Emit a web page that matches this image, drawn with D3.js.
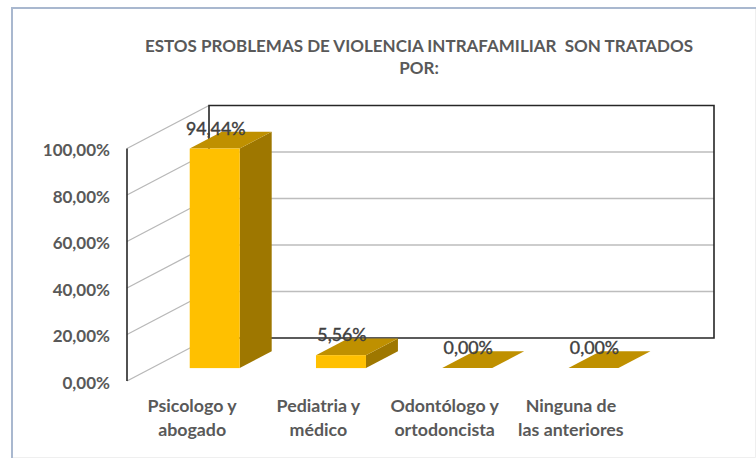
<!DOCTYPE html>
<html><head><meta charset="utf-8">
<script src="https://cdn.jsdelivr.net/npm/d3@7"></script>
<style>html,body{margin:0;padding:0;background:#fff}svg{display:block}text{font-family:Lato,"Open Sans",sans-serif}</style>
</head><body><svg id="c" width="756" height="458"></svg>
<script>
const titleLines = ["ESTOS PROBLEMAS DE VIOLENCIA INTRAFAMILIAR  SON TRATADOS", "POR:"];
const categories = ["Psicologo y|abogado", "Pediatria y|médico", "Odontólogo y|ortodoncista", "Ninguna de|las anteriores"];
const values = [94.44, 5.56, 0, 0];
const valueLabels = ["94,44%", "5,56%", "0,00%", "0,00%"];
const yTicks = [0, 20, 40, 60, 80, 100];
const yTickLabels = ["0,00%", "20,00%", "40,00%", "60,00%", "80,00%", "100,00%"];

const svg = d3.select("#c");
const originX = 127, originY = 381;
const depthX = 82, depthY = -43;
const barDepthStart = 0.30, barDepthEnd = 0.69;

const x = d3.scaleBand().domain(categories).range([originX, originX + 505]).paddingInner(0.604).paddingOuter(0.302);
const y = d3.scaleLinear().domain([0, 100]).range([originY, 148.5]);

// outer frame
svg.append("path").attr("d", "M755.5,8V457.5H12").attr("fill", "none").attr("stroke", "#efefef").attr("stroke-width", 1);
svg.append("path").attr("d", "M12,458V8H756").attr("fill", "none").attr("stroke", "#a9b8cf").attr("stroke-width", 2);

// title
svg.append("g").selectAll("text").data(titleLines).join("text")
  .attr("x", 419).attr("y", (d, i) => 51.5 + i * 22)
  .attr("text-anchor", "middle").attr("font-size", 17).attr("fill", "#595959")
  .attr("font-weight", 700).style("white-space", "pre").text(d => d);

const backL = originX + depthX, backR = originX + 505 + depthX;

// walls
const grid = svg.append("g");
grid.selectAll(".side").data(yTicks).join("line").attr("class", "side")
  .attr("x1", originX).attr("y1", d => y(d))
  .attr("x2", backL).attr("y2", d => y(d) + depthY)
  .attr("stroke", "#b8b8b8").attr("stroke-width", 1.3);
grid.selectAll(".back").data(yTicks.slice(1, -1)).join("line").attr("class", "back")
  .attr("x1", backL).attr("y1", d => y(d) + depthY)
  .attr("x2", backR).attr("y2", d => y(d) + depthY)
  .attr("stroke", "#bdbdbd").attr("stroke-width", 1.5);
// black wall frame
svg.append("path")
  .attr("d", `M${backL},${y(0) + depthY}V${y(100) + depthY}H${backR}V${y(0) + depthY}H${backL}`)
  .attr("fill", "none").attr("stroke", "#262626").attr("stroke-width", 1.6);
svg.append("line").attr("x1", originX).attr("x2", originX).attr("y1", y(0)).attr("y2", y(100))
  .attr("stroke", "#262626").attr("stroke-width", 1.6);

// bars
const offX0 = depthX * barDepthStart, offY0 = depthY * barDepthStart;
const bdx = depthX * (barDepthEnd - barDepthStart), bdy = depthY * (barDepthEnd - barDepthStart);
const bars = svg.append("g").selectAll("g").data(categories.map((c, i) => ({c, v: values[i], label: valueLabels[i]}))).join("g");
const L = d => x(d.c) + offX0, R = d => L(d) + x.bandwidth();
const T = d => y(d.v) + offY0, B = d => y(0) + offY0;
bars.append("path").attr("fill", "#9e7700")
  .attr("d", d => `M${R(d)},${T(d)}l${bdx},${bdy}V${B(d) + bdy}L${R(d)},${B(d)}Z`);
bars.append("path").attr("fill", "#bf9000")
  .attr("d", d => `M${L(d)},${T(d)}l${bdx},${bdy}H${R(d) + bdx}L${R(d)},${T(d)}Z`);
bars.append("rect").attr("fill", "#ffc000")
  .attr("x", L).attr("y", T).attr("width", x.bandwidth()).attr("height", d => B(d) - T(d));
bars.append("text")
  .attr("x", d => (L(d) + R(d)) / 2 + 1).attr("y", d => T(d) - 14)
  .attr("text-anchor", "middle").attr("font-size", 17.8).attr("fill", "#404040")
  .attr("stroke", "#404040").attr("stroke-width", 0.4)
  .text(d => d.label);

// y labels
svg.append("g").selectAll("text").data(yTicks).join("text")
  .attr("x", 110).attr("y", d => y(d) + 7.5)
  .attr("text-anchor", "end").attr("font-size", 17).attr("font-weight", 700).attr("fill", "#595959")
  .text((d, i) => yTickLabels[i]);

// category labels
const cat = svg.append("g").selectAll("text").data(categories).join("text")
  .attr("text-anchor", "middle").attr("font-size", 17.8).attr("font-weight", 700).attr("fill", "#595959");
cat.selectAll("tspan").data(d => d.split("|").map(t => ({t, c: d}))).join("tspan")
  .attr("x", d => x(d.c) + x.bandwidth() / 2 + 2)
  .attr("y", (d, i) => 412 + i * 24).text(d => d.t);
</script></body></html>
